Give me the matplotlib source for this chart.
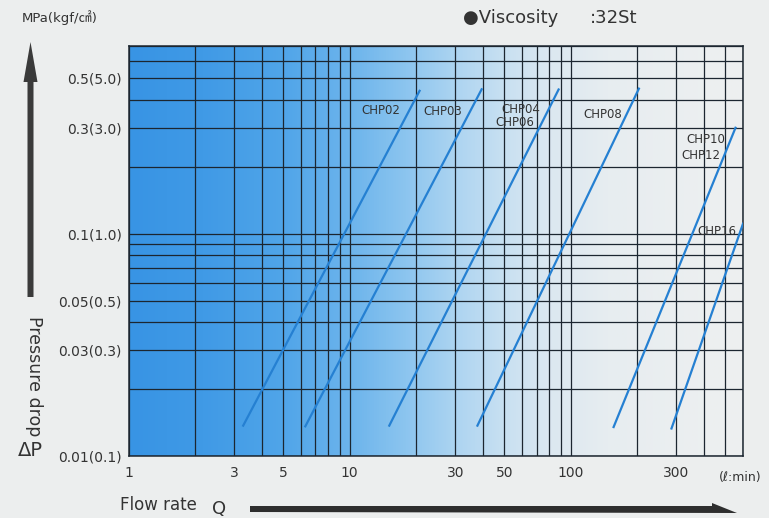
import numpy as np
import matplotlib
matplotlib.use('Agg')
import matplotlib.pyplot as plt
from matplotlib.colors import LinearSegmentedColormap
from matplotlib.ticker import FixedLocator, LogLocator, NullFormatter
from matplotlib.patches import Polygon

# pressure drop lines (Q in l/min, dP in MPa)
models = ['CHP02', 'CHP03', 'CHP04', 'CHP08', 'CHP10', 'CHP16']
q_start = [3.3, 6.3, 15.1, 37.8, 156, 285]
q_end = [20.7, 39.5, 88, 203, 555, 600]
dp_start = [0.0137, 0.0136, 0.0137, 0.0137, 0.0135, 0.0133]
dp_end = [0.44, 0.447, 0.446, 0.45, 0.30, 0.111]

# model labels next to the lines
label_text = ['CHP02', 'CHP03', 'CHP04', 'CHP06', 'CHP08', 'CHP10', 'CHP12', 'CHP16']
label_q = [13.8, 26.3, 59.4, 55.8, 140, 409, 387, 458]
label_dp = [0.36, 0.355, 0.362, 0.318, 0.344, 0.265, 0.226, 0.102]

# axis ticks
x_ticks = [1, 3, 5, 10, 30, 50, 100, 300]
x_ticklabels = ['1', '3', '5', '10', '30', '50', '100', '300']
y_ticks = [0.01, 0.03, 0.05, 0.1, 0.3, 0.5]
y_ticklabels = ['0.01(0.1)', '0.03(0.3)', '0.05(0.5)', '0.1(1.0)', '0.3(3.0)', '0.5(5.0)']

W, H = 769, 518
bg = '#eceeee'
ink = '#333333'
grid_col = '#1c2630'
line_col = '#2580d2'

plt.rcParams['font.family'] = ['DejaVu Sans', 'Noto Sans CJK JP']

fig = plt.figure(figsize=(W / 100, H / 100), dpi=100, facecolor=bg)
ax = fig.add_axes([128.5 / W, 1 - 456 / H, 614.5 / W, 410 / H])


def px(x, y):
    # pixel position in the picture -> figure fraction
    return (x / W, 1 - y / H)


# blue to white background fade
stops = [
    (0.0, (56, 148, 228)),
    (0.12, (64, 154, 230)),
    (0.25, (80, 165, 233)),
    (0.36, (108, 180, 236)),
    (0.45, (140, 197, 239)),
    (0.53, (172, 212, 241)),
    (0.61, (200, 224, 242)),
    (0.69, (220, 232, 241)),
    (0.78, (231, 237, 240)),
    (1.0, (238, 240, 240)),
]
cmap = LinearSegmentedColormap.from_list(
    'fade', [(p, tuple(c / 255 for c in rgb)) for p, rgb in stops])
grad = np.linspace(0, 1, 512).reshape(1, -1)
ax.imshow(grad, cmap=cmap, aspect='auto', extent=[0, 1, 0, 1],
          transform=ax.transAxes, zorder=0, interpolation='bilinear')

ax.set_xscale('log')
ax.set_yscale('log')
ax.set_xlim(1, 600)
ax.set_ylim(0.01, 0.7)

ax.xaxis.set_major_locator(FixedLocator(x_ticks))
ax.set_xticklabels(x_ticklabels)
ax.yaxis.set_major_locator(FixedLocator(y_ticks))
ax.set_yticklabels(y_ticklabels)
for axis in (ax.xaxis, ax.yaxis):
    axis.set_minor_locator(LogLocator(base=10, subs=np.arange(2, 10)))
    axis.set_minor_formatter(NullFormatter())
ax.tick_params(which='both', length=0)
ax.tick_params(axis='x', pad=7, labelsize=10, labelcolor=ink)
ax.tick_params(axis='y', pad=5, labelsize=10, labelcolor=ink)
ax.grid(which='both', color=grid_col, linewidth=0.9, zorder=1)
ax.set_axisbelow(False)
for s in ax.spines.values():
    s.set_color(grid_col)
    s.set_linewidth(1.1)

# flow lines
for i in range(len(models)):
    ax.plot([q_start[i], q_end[i]], [dp_start[i], dp_end[i]],
            color=line_col, linewidth=1.6, zorder=3, clip_on=True)

for t, q, dp in zip(label_text, label_q, label_dp):
    ax.text(q, dp, t, fontsize=8.5, color=ink, ha='center', va='center', zorder=4)

# units and axis titles
fig.text(*px(22, 18), 'MPa(kgf/㎠)', fontsize=9.5, color=ink, va='center')
fig.text(*px(463, 18), '●Viscosity', fontsize=13, color=ink, va='center')
fig.text(*px(590, 18), ':32St', fontsize=13, color=ink, va='center')
fig.text(*px(740, 478), '(ℓ:min)', fontsize=9, color=ink, ha='center', va='center')
fig.text(*px(34, 376), 'Pressure drop', fontsize=12.5, color=ink, rotation=-90,
         ha='center', va='center')
fig.text(*px(30, 451), 'ΔP', fontsize=14, color=ink, ha='center', va='center')
fig.text(*px(120, 505), 'Flow rate', fontsize=12, color=ink, va='center')
fig.text(*px(219, 509), 'Q', fontsize=13, color=ink, ha='center', va='center')

# big arrows next to the axes
up = [px(27.5, 297), px(33.5, 297), px(33.5, 82), px(37.5, 82),
      px(30.5, 42), px(23.5, 82), px(27.5, 82)]
fig.add_artist(Polygon(up, closed=True, transform=fig.transFigure,
                       facecolor='#3a3a3a', edgecolor='none'))
right = [px(250, 506), px(712, 506), px(712, 503), px(737, 513), px(250, 512)]
fig.add_artist(Polygon(right, closed=True, transform=fig.transFigure,
                       facecolor='#2e2e2e', edgecolor='none'))

fig.savefig('out.png', dpi=100, facecolor=bg)
